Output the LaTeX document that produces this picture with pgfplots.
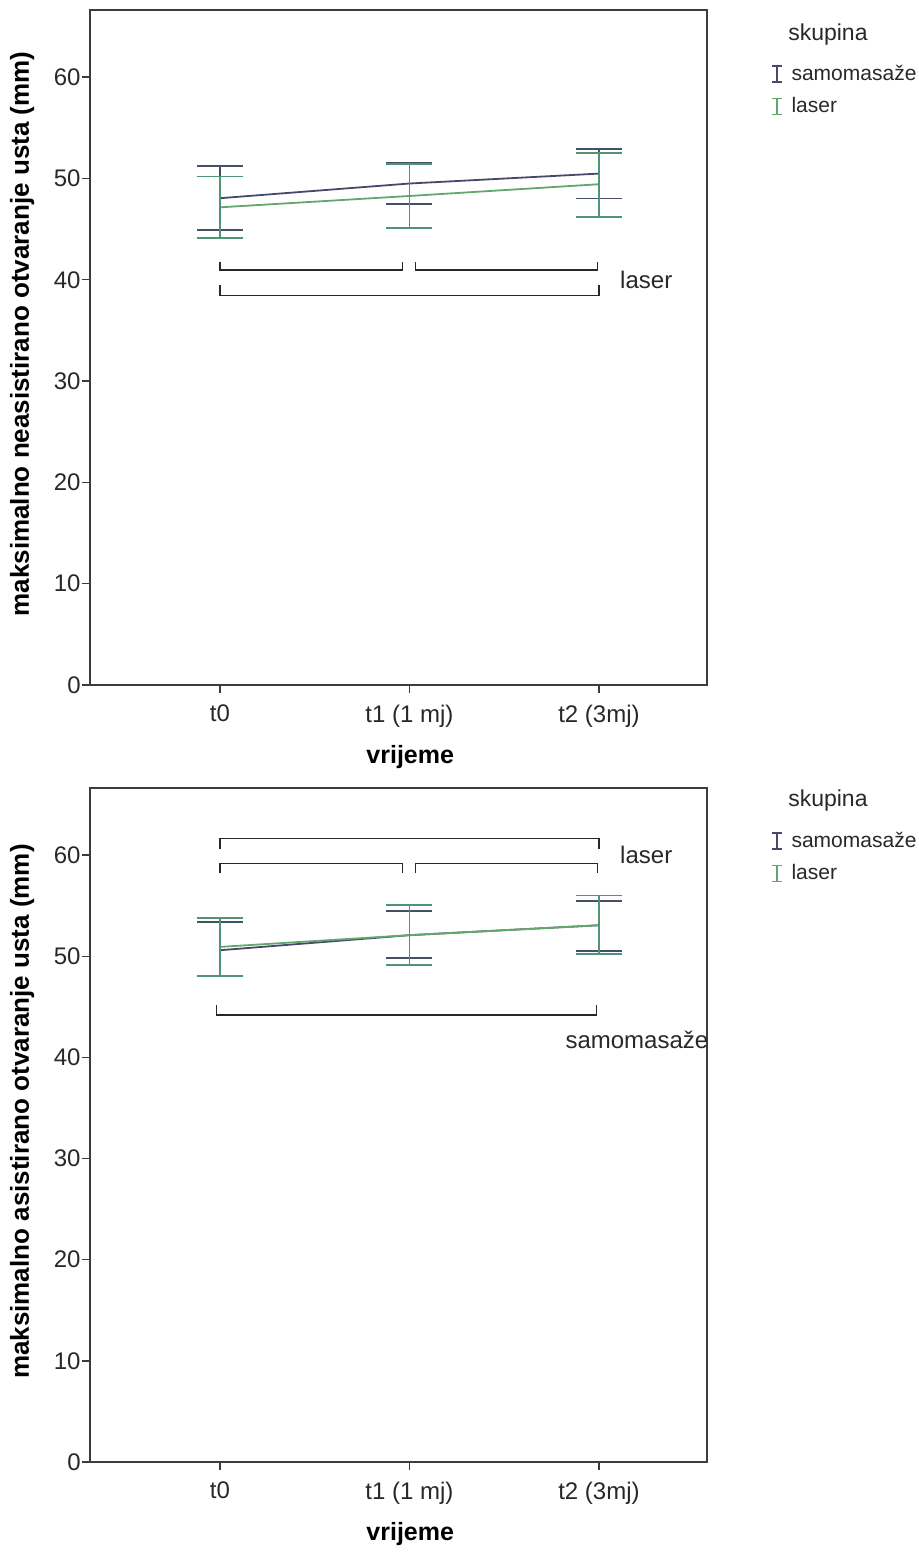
\documentclass[border=0pt]{standalone}
\usepackage{fontspec}
\setmainfont{Liberation Sans}
\usepackage{pgfplots}
\pgfplotsset{compat=1.18}
\usepackage{pgfplotstable}

\definecolor{samoline}{RGB}{72,72,108}
\definecolor{samoerr}{RGB}{70,80,100}
\definecolor{laserline}{RGB}{98,168,108}
\definecolor{lasererr}{RGB}{80,148,118}
\definecolor{axgray}{RGB}{60,60,60}
\definecolor{txt}{RGB}{40,40,40}

% top panel
\pgfplotstableread{
x y ep em
0 48.05 3.15 3.15
1 49.50 2.05 2.05
2 50.48 2.42 2.45
}\topsamo
\pgfplotstableread{
x y ep em
0 47.15 3.05 3.05
1 48.27 3.17 3.17
2 49.43 3.05 3.20
}\toplaser
% bottom panel
\pgfplotstableread{
x y ep em
0 50.59 2.80 2.54
1 52.08 2.40 2.25
2 53.06 2.41 2.54
}\botsamo
\pgfplotstableread{
x y ep em
0 50.92 2.86 2.87
1 52.08 2.96 2.97
2 53.06 2.94 2.86
}\botlaser

\tikzset{brk/.style={txt, line width=0.7pt}}

\pgfplotsset{
  spssax/.style={
    scale only axis,
    width=308.5pt,
    xmin=-0.686, xmax=2.570,
    ymin=0, ymax=66.63,
    xtick={0,1,2},
    xticklabels={t0,t1 (1 mj),t2 (3mj)},
    ytick={0,10,20,30,40,50,60},
    tick pos=left,
    tick align=outside,
    major tick length=4pt,
    axis line style={axgray, line width=0.7pt},
    tick style={axgray, line width=0.7pt},
    /pgf/number format/assume math mode=true,
    ticklabel style={font=\fontsize{12}{14}\selectfont, text=txt},
    xticklabel style={yshift=-2.5pt},
    yticklabel style={inner xsep=0.5pt},
    xlabel={vrijeme},
    xlabel style={font=\bfseries\fontsize{12.5}{14}\selectfont, text=black,
      at={(axis description cs:0.519,-0.107)}, anchor=center},
    ylabel style={font=\bfseries\fontsize{13}{15}\selectfont, text=black,
      at={(axis description cs:-0.110,0.52)}, anchor=center},
    legend style={anchor=north west,
      draw=none, fill=none, font=\fontsize{10.5}{12.5}\selectfont, text=txt,
      inner sep=0pt, row sep=3pt, column sep=2.5pt, cells={anchor=west}},
    legend image code/.code={
      \draw[#1, line width=0.8pt] (2.5pt,-4pt)--(2.5pt,4pt)
        (0pt,-4pt)--(5pt,-4pt) (0pt,4pt)--(5pt,4pt);},
    clip=false,
  },
}

\begin{document}
\begin{tikzpicture}
\path[use as bounding box] (0,0) rectangle (459pt,778pt);

% ---------------- top ----------------
\begin{axis}[spssax, at={(45pt,435.5pt)}, anchor=south west, height=337.5pt,
  ylabel={maksimalno neasistirano otvaranje usta (mm)},
  legend style={at={(axis description cs:1.103,0.925)}}]
\addplot[samoline, line width=0.9pt, mark=none,
  error bars/.cd, y dir=both, y explicit,
  error bar style={samoerr, line width=0.9pt},
  error mark options={rotate=90, samoerr, mark size=11.5pt, line width=0.9pt}]
  table[x=x, y=y, y error plus=ep, y error minus=em] {\topsamo};
\addlegendentry{samomasaže}
\addplot[laserline, line width=0.9pt, mark=none,
  error bars/.cd, y dir=both, y explicit,
  error bar style={lasererr, line width=0.9pt},
  error mark options={rotate=90, lasererr, mark size=11.5pt, line width=0.9pt}]
  table[x=x, y=y, y error plus=ep, y error minus=em] {\toplaser};
\addlegendentry{laser}
\draw[brk] (axis cs:0,41.8)--(axis cs:0,40.97)--(axis cs:0.964,40.97)--(axis cs:0.964,41.8);
\draw[brk] (axis cs:1.031,41.8)--(axis cs:1.031,40.97)--(axis cs:1.993,40.97)--(axis cs:1.993,41.8);
\draw[brk] (axis cs:0,39.49)--(axis cs:0,38.43)--(axis cs:2,38.43)--(axis cs:2,39.49);
\node[anchor=west, text=txt, font=\fontsize{12}{14}\selectfont, inner sep=0pt] at (axis cs:2.11,40.0) {laser};
\node[text=txt, font=\fontsize{11.5}{13}\selectfont, inner sep=0pt] at (axis description cs:1.196,0.964) {skupina};
\end{axis}

% ---------------- bottom ----------------
\begin{axis}[spssax, at={(45pt,47pt)}, anchor=south west, height=337pt,
  ylabel={maksimalno asistirano otvaranje usta (mm)},
  legend style={at={(axis description cs:1.103,0.941)}}]
\addplot[samoline, line width=0.9pt, mark=none,
  error bars/.cd, y dir=both, y explicit,
  error bar style={samoerr, line width=0.9pt},
  error mark options={rotate=90, samoerr, mark size=11.5pt, line width=0.9pt}]
  table[x=x, y=y, y error plus=ep, y error minus=em] {\botsamo};
\addlegendentry{samomasaže}
\addplot[laserline, line width=0.9pt, mark=none,
  error bars/.cd, y dir=both, y explicit,
  error bar style={lasererr, line width=0.9pt},
  error mark options={rotate=90, lasererr, mark size=11.5pt, line width=0.9pt}]
  table[x=x, y=y, y error plus=ep, y error minus=em] {\botlaser};
\addlegendentry{laser}
\draw[brk] (axis cs:0,60.64)--(axis cs:0,61.63)--(axis cs:2,61.63)--(axis cs:2,60.64);
\draw[brk] (axis cs:0,58.23)--(axis cs:0,59.16)--(axis cs:0.964,59.16)--(axis cs:0.964,58.23);
\draw[brk] (axis cs:1.031,58.23)--(axis cs:1.031,59.16)--(axis cs:1.993,59.16)--(axis cs:1.993,58.23);
\draw[brk] (axis cs:-0.018,45.16)--(axis cs:-0.018,44.17)--(axis cs:1.986,44.17)--(axis cs:1.986,45.16);
\node[anchor=west, text=txt, font=\fontsize{12}{14}\selectfont, inner sep=0pt] at (axis cs:2.11,60.0) {laser};
\node[text=txt, font=\fontsize{12}{14}\selectfont, inner sep=0pt] at (axis cs:2.2,41.7) {samomasaže};
\node[text=txt, font=\fontsize{11.5}{13}\selectfont, inner sep=0pt] at (axis description cs:1.196,0.981) {skupina};
\end{axis}
\end{tikzpicture}
\end{document}
